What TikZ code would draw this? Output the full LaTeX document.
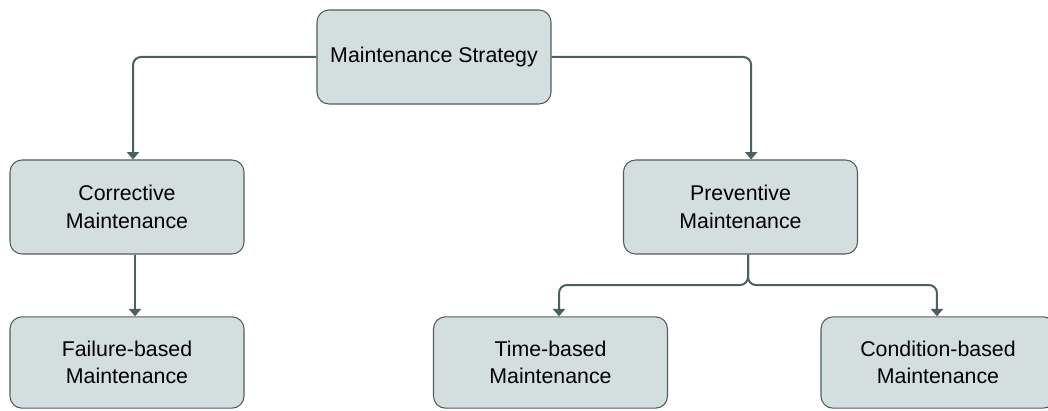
\documentclass[tikz,border=0pt]{standalone}
\usepackage{fontspec}
\setmainfont{Liberation Sans}
\usetikzlibrary{arrows.meta}
\definecolor{boxfill}{HTML}{D3DFDE}
\definecolor{boxline}{HTML}{555B5B}
\definecolor{linkcol}{HTML}{4A6162}
\begin{document}
\begin{tikzpicture}[x=0.75pt, y=-0.75pt, thick,
  main/.style = {draw=boxline, line width=0.8pt, fill=boxfill, rounded corners=9pt, minimum width=175.5pt, minimum height=70.5pt, align=center, font=\fontsize{16}{20.5}\selectfont, inner sep=0pt},
  low/.style = {main, minimum height=68.5pt},
  link/.style = {draw=linkcol, line width=1.5pt, rounded corners=6pt, -{Triangle[width=9pt,length=5.5pt]}}]
		\useasboundingbox (0,0) rectangle (1048,410);
		\node[main] (strat) at (434, 57) {Maintenance Strategy};
		\node[main] (corr) at (127, 207) {Corrective\\Maintenance};
		\node[main] (prev) at (740.5, 207) {Preventive\\Maintenance};
		\node[low] (fail) at (127, 362.5) {Failure-based\\Maintenance};
		\node[low] (time) at (550.5, 362.5) {Time-based\\Maintenance};
		\node[low] (cond) at (938, 362.5) {Condition-based\\Maintenance};
		\coordinate (split) at (748, 285);
		\draw[link] (strat.west) -| ([xshift=4.5pt]corr.north);
		\draw[link] (strat.east) -| ([xshift=8pt]prev.north);
		\draw[link] ([xshift=6pt]corr.south) -- ([xshift=6pt]fail.north);
		\draw[link] (prev.south -| split) -- (split) -| ([xshift=6.4pt]time.north);
		\draw[link] (prev.south -| split) -- (split) -| ([xshift=-0.8pt]cond.north);
	\end{tikzpicture}
\end{document}
